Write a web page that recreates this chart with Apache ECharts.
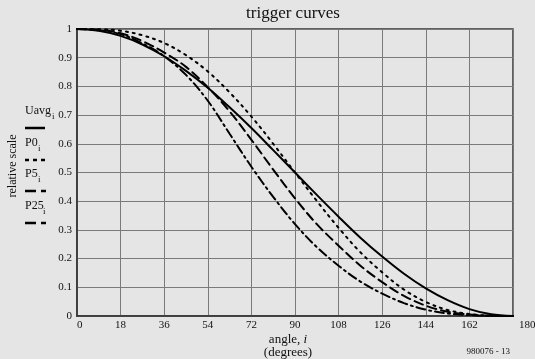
<!DOCTYPE html>
<html>
<head>
<meta charset="utf-8">
<script src="https://cdn.jsdelivr.net/npm/echarts@6/dist/echarts.min.js"></script>
<style>
html,body{margin:0;padding:0;background:#e5e5e5;}
#c{width:535px;height:359px;}
</style>
</head>
<body>
<div id="c"></div>
<script>
// angle in degrees
var angles = [0, 9, 18, 27, 36, 45, 54, 63, 72, 81, 90, 99, 108, 117, 126, 135, 144, 153, 162, 171, 180];
var uavg = [1, 0.994, 0.976, 0.946, 0.905, 0.854, 0.795, 0.727, 0.655, 0.578, 0.5, 0.422, 0.346, 0.273, 0.207, 0.147, 0.096, 0.055, 0.024, 0.006, 0];
var p0   = [1, 0.999, 0.994, 0.978, 0.951, 0.909, 0.852, 0.779, 0.695, 0.6, 0.5, 0.401, 0.307, 0.222, 0.152, 0.092, 0.049, 0.021, 0.007, 0.001, 0];
var p5   = [1, 0.997, 0.985, 0.958, 0.918, 0.868, 0.797, 0.713, 0.614, 0.51, 0.41, 0.32, 0.245, 0.175, 0.118, 0.07, 0.036, 0.015, 0.005, 0.001, 0];
var p25  = [1, 0.996, 0.982, 0.95, 0.905, 0.84, 0.75, 0.635, 0.52, 0.415, 0.32, 0.24, 0.175, 0.12, 0.078, 0.045, 0.022, 0.009, 0.003, 0.0005, 0];
var xTicks = [0, 18, 36, 54, 72, 90, 108, 126, 144, 162, 180];

function pairs(ys){ return angles.map(function(a,i){ return [a, ys[i]]; }); }

var FONT = '"Liberation Serif","DejaVu Serif",serif';
var chart = echarts.init(document.getElementById('c'), null, {renderer:'canvas'});

function mkSeries(name, ys, dash){
  return {
    name: name, type: 'line', data: pairs(ys), smooth: 0.35, symbol: 'none',
    lineStyle: {color: '#000', width: 2, type: dash, cap: 'round'}
  };
}

function txt(x, y, s, size, extra){
  var st = {text:s, font:size+'px '+FONT, fill:'#111', verticalAlign:'top'};
  if (extra) for (var k in extra) st[k] = extra[k];
  return {type:'text', x:x, y:y, style:st};
}

var graphics = [
  txt(293, 5, 'trigger curves', 17, {align:'center'}),
  {type:'text', x:288, y:333, style:{text:'{a|angle, }{b|i}', rich:{a:{font:'13px '+FONT, fill:'#111'}, b:{font:'italic 13px '+FONT, fill:'#111'}}, align:'center', verticalAlign:'top'}},
  txt(288, 346, '(degrees)', 13, {align:'center'}),
  txt(510, 347, '980076 - 13', 9, {align:'right'}),
  {type:'text', x:13, y:166, rotation:Math.PI/2, style:{text:'relative scale', font:'12px '+FONT, fill:'#111', align:'center', verticalAlign:'middle'}},
  // legend labels
  txt(25, 105, 'Uavg', 12), txt(52, 112, 'i', 9),
  txt(25, 137, 'P0', 12), txt(38, 144, 'i', 9),
  txt(25, 168, 'P5', 12), txt(38, 175, 'i', 9),
  txt(25, 200, 'P25', 12), txt(43, 207, 'i', 9),
  // legend samples
  {type:'line', shape:{x1:25, y1:128, x2:45, y2:128}, style:{stroke:'#000', lineWidth:2.5}},
  {type:'line', shape:{x1:25, y1:160, x2:46, y2:160}, style:{stroke:'#000', lineWidth:2.5, lineDash:[4,4]}},
  {type:'line', shape:{x1:25, y1:191, x2:47, y2:191}, style:{stroke:'#000', lineWidth:2.5, lineDash:[11,5,5,20]}},
  {type:'line', shape:{x1:25, y1:223, x2:47, y2:223}, style:{stroke:'#000', lineWidth:2.5, lineDash:[11,5,5,20]}}
];

chart.setOption({
  backgroundColor: '#e5e5e5',
  animation: false,
  grid: {left: 77, right: 22, top: 29, bottom: 43, containLabel: false, outerBoundsMode: 'none',
    show: true, borderColor: '#333', borderWidth: 1.5, backgroundColor: 'transparent'},
  xAxis: {
    type: 'value', min: 0, max: 180, interval: 18,
    axisLine: {show: true, lineStyle: {color: '#333', width: 1.5}},
    axisTick: {show: false},
    splitLine: {show: true, lineStyle: {color: '#7a7a7a', width: 1}},
    axisLabel: {color: '#111', fontFamily: FONT, fontSize: 11, margin: 4,
      alignMinLabel: 'left', alignMaxLabel: 'left',
      rich: {m: {fontFamily: FONT, fontSize: 11, color: '#111', padding: [0, 0, 0, 6]}},
      formatter: function(v){
        if (xTicks.indexOf(v) < 0) return '';
        return v === 180 ? '{m|180}' : String(v);
      }}
  },
  yAxis: {
    type: 'value', min: 0, max: 1, interval: 0.1,
    axisLine: {show: true, lineStyle: {color: '#333', width: 1.5}},
    axisTick: {show: false},
    splitLine: {show: true, lineStyle: {color: '#7a7a7a', width: 1}},
    axisLabel: {color: '#111', fontFamily: FONT, fontSize: 11, margin: 5,
      formatter: function(v){ return String(Math.round(v*10)/10); }}
  },
  graphic: graphics,
  series: [
    mkSeries('Uavg', uavg, 'solid'),
    mkSeries('P0', p0, [2, 5]),
    mkSeries('P5', p5, [9, 5]),
    mkSeries('P25', p25, [9, 4, 2, 4])
  ]
});
</script>
</body>
</html>
